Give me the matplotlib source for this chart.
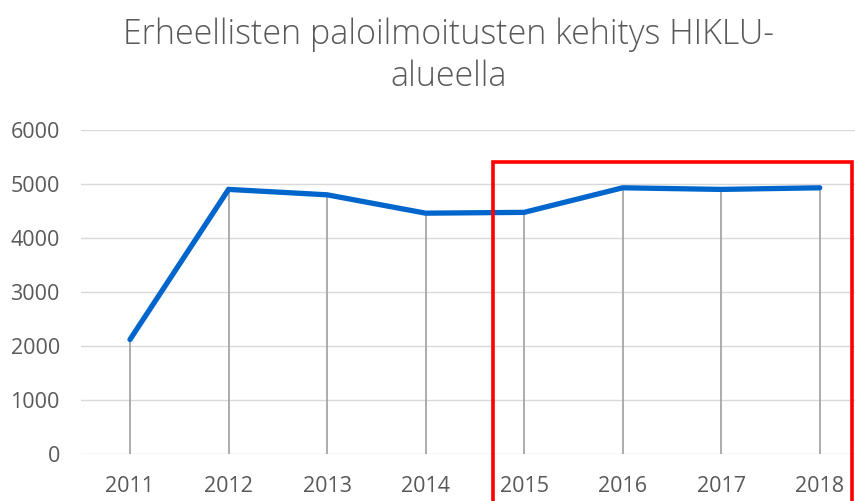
import matplotlib.pyplot as plt
from matplotlib.patches import Rectangle

years = ['2011', '2012', '2013', '2014', '2015', '2016', '2017', '2018']
alarms = [2120, 4900, 4800, 4460, 4475, 4930, 4900, 4930]

# highlighted period (2015-2018), in category units
box_x0, box_x1 = 3.68, 7.33
box_y0, box_y1 = -1200, 5410

grey_text = '#595959'

fig = plt.figure(figsize=(8.55, 5.01), dpi=100)
ax = fig.add_axes([0.0944, 0.0938, 0.922, 0.6467])

x = list(range(len(years)))

# drop lines from each point to the axis
ax.vlines(x, 0, alarms, color='#A6A6A6', linewidth=1.3, zorder=2)
ax.plot(x, alarms, color='#0066CC', linewidth=3.8, solid_capstyle='round',
        solid_joinstyle='miter', zorder=3)

ax.set_xlim(-0.5, len(years) - 0.5)
ax.set_ylim(0, 6000)
ax.set_yticks(range(0, 6001, 1000))
ax.set_xticks(x)
ax.set_xticklabels(years)

ax.yaxis.grid(True, color='#D9D9D9', linewidth=1.0)
ax.set_axisbelow(True)
for s in ax.spines.values():
    s.set_visible(False)
ax.tick_params(length=0, labelsize=15.5, colors=grey_text)
ax.tick_params(axis='x', pad=15.5)
ax.tick_params(axis='y', pad=15)
for lbl in ax.get_xticklabels() + ax.get_yticklabels():
    lbl.set_family('Open Sans')

ax.add_patch(Rectangle((box_x0, box_y0), box_x1 - box_x0, box_y1 - box_y0,
                       fill=False, edgecolor='#FF0000', linewidth=2.6,
                       clip_on=False, zorder=4))

fig.text(0.5246, 0.966, 'Erheellisten paloilmoitusten kehitys HIKLU-\nalueella',
         ha='center', va='top', fontsize=24.5, color=grey_text,
         family='Open Sans', fontweight='light', linespacing=1.3)

fig.savefig('out.png', dpi=100)
